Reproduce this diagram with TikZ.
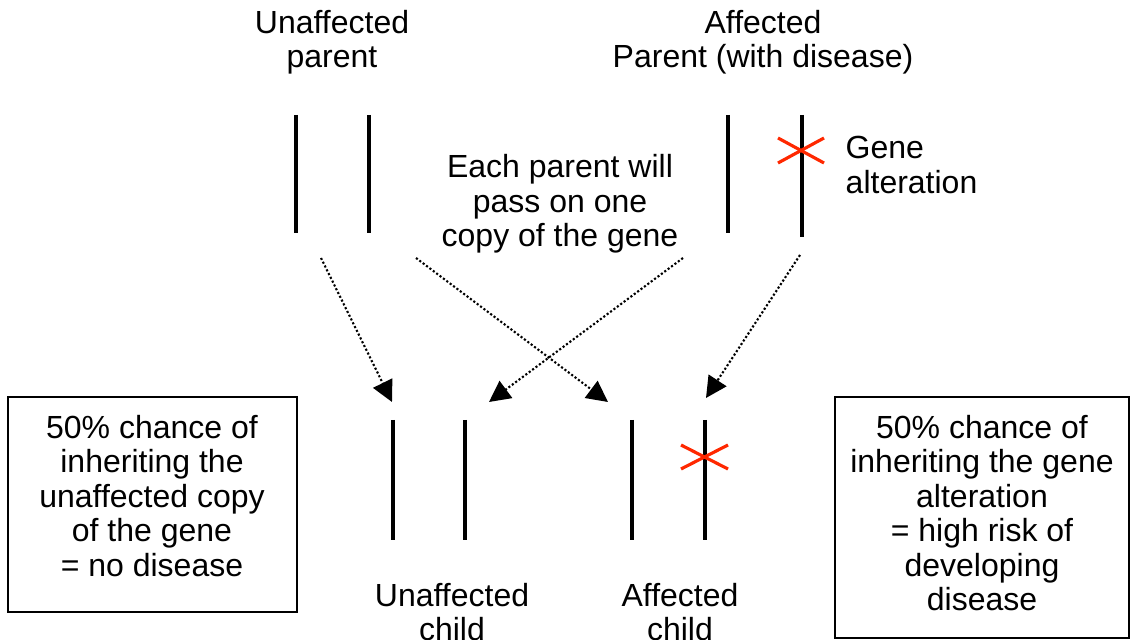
\documentclass[tikz,border=0pt]{standalone}
\usepackage{fontspec}
\setmainfont{Liberation Sans}
\usepackage{tikz}
\usetikzlibrary{arrows.meta}
\definecolor{gene-red}{RGB}{255,40,0}

\tikzset{
	chrom/.style={line width=0.9pt},
	alteration/.style={gene-red, line width=0.9pt},
	pass/.style={dash pattern=on 0.6pt off 0.6pt, line width=0.6pt, -{Triangle[length=6pt, width=6pt]}},
	label/.style={align=center, inner sep=0pt, font=\fontsize{9.1}{9.8}\selectfont},
	infobox/.style={line width=0.4pt}
}

\begin{document}
\begin{tikzpicture}[x=0.01cm, y=-0.01cm]
	\useasboundingbox (0,0) rectangle (1136,640);

	% parents
	\node[label] (unaffParent) at (332,42) {Unaffected\\parent};
	\node[label] (affParent) at (763,42) {Affected\\Parent (with disease)};
	\draw[chrom] (296,115) -- (296,233);
	\draw[chrom] (369,115) -- (369,233);
	\draw[chrom] (728,115) -- (728,233);
	\draw[chrom] (802,115) -- (802,237);
	\draw[alteration] (778,138) -- (824,163);
	\draw[alteration] (778,163) -- (824,138);
	\node[label, align=left, anchor=west] (geneAlt) at (845,165) {Gene\\alteration};
	\node[label] (eachParent) at (560,204) {Each parent will\\pass on one\\copy of the gene};

	% children
	\draw[chrom] (393,420) -- (393,540);
	\draw[chrom] (465,420) -- (465,540);
	\draw[chrom] (632,420) -- (632,540);
	\draw[chrom] (705,420) -- (705,540);
	\draw[alteration] (681,445) -- (728,469);
	\draw[alteration] (681,469) -- (728,445);
	\node[label] (unaffChild) at (452,612) {Unaffected\\child};
	\node[label] (affChild) at (680,612) {Affected\\child};

	% passing on one copy
	\coordinate (a1) at (321,258);
	\coordinate (a2) at (416,258);
	\coordinate (b1) at (683,258);
	\coordinate (b2) at (800,255);
	\coordinate (c1) at (392,402);
	\coordinate (c2) at (489,402);
	\coordinate (d1) at (608,402);
	\coordinate (d2) at (706,398);
	\draw[pass] (a1) -- (c1);
	\draw[pass] (a2) -- (d1);
	\draw[pass] (b1) -- (c2);
	\draw[pass] (b2) -- (d2);

	% chances
	\draw[infobox] (8,397) rectangle (297,612);
	\node[label] (noDisease) at (152,496) {50\% chance of\\inheriting the\\unaffected copy\\of the gene\\= no disease};
	\draw[infobox] (835,397) rectangle (1129,638);
	\node[label] (highRisk) at (982,513) {50\% chance of\\inheriting the gene\\alteration\\= high risk of\\developing\\disease};
\end{tikzpicture}
\end{document}
